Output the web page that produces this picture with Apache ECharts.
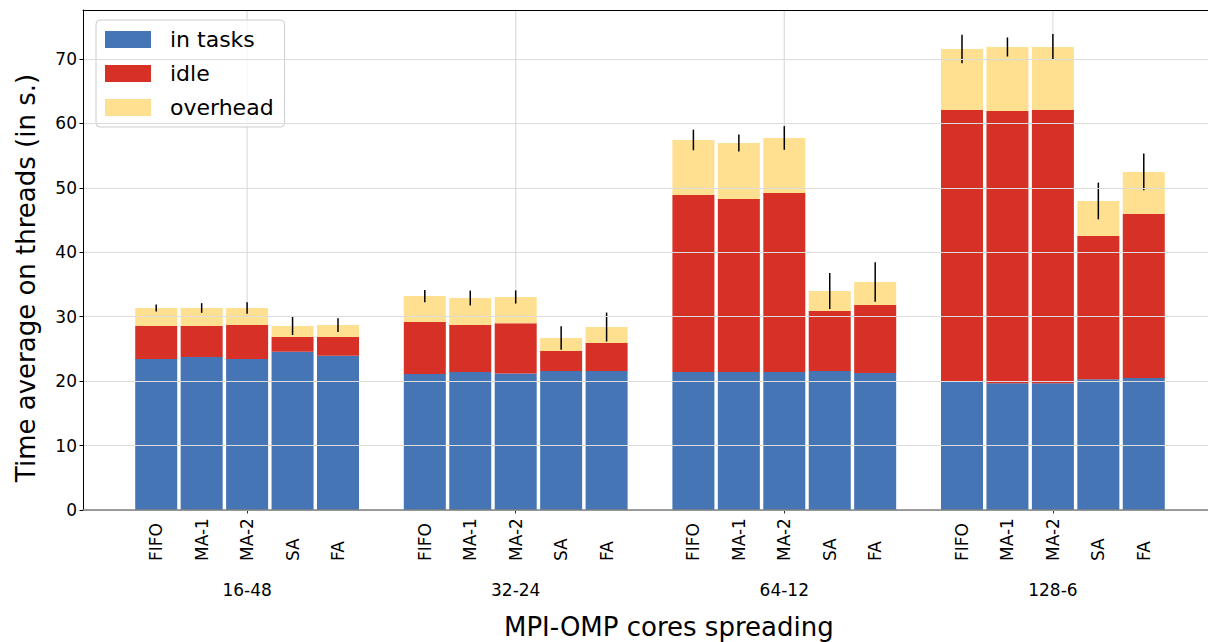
<!DOCTYPE html>
<html>
<head>
<meta charset="utf-8">
<script src="https://cdn.jsdelivr.net/npm/echarts@6/dist/echarts.min.js"></script>
<style>
  html, body { margin: 0; padding: 0; background: #fff; }
  #chart { width: 1208px; height: 642px; }
</style>
</head>
<body>
<div id="chart"></div>
<script>
const groups = ['16-48', '32-24', '64-12', '128-6'];
const schedulers = ['FIFO', 'MA-1', 'MA-2', 'SA', 'FA'];
// values in seconds, in order group by group, scheduler by scheduler
const inTasks = [23.44, 23.75, 23.44, 24.57, 23.95,
                 21.10, 21.42, 21.20, 21.57, 21.57,
                 21.42, 21.42, 21.42, 21.57, 21.26,
                 19.87, 19.66, 19.66, 20.28, 20.49];
const idle = [5.12, 4.81, 5.26, 2.28, 2.90,
              8.08, 7.28, 7.80, 3.11, 4.33,
              27.48, 26.85, 27.78, 9.32, 10.56,
              42.21, 42.27, 42.42, 22.25, 25.45];
const overhead = [2.79, 2.79, 2.65, 1.71, 1.85,
                  4.02, 4.20, 4.06, 2.02, 2.50,
                  8.53, 8.69, 8.54, 3.10, 3.57,
                  9.47, 9.93, 9.78, 5.43, 6.52];
const errHalf = [0.55, 0.75, 0.90, 1.40, 1.07,
                 0.95, 1.15, 1.02, 1.82, 2.25,
                 1.60, 1.32, 1.84, 2.80, 3.08,
                 2.20, 1.48, 2.00, 2.85, 2.85];
const yTicks = [0, 10, 20, 30, 40, 50, 60, 70];

const STEP = 0.1692, BAR_W = 0.1564;
const X_MIN = -0.611, X_MAX = 3.5775, Y_MAX = 77.6;
const FONT = 'DejaVu Sans';
const colors = { tasks: '#4575b4', idle: '#d73027', overhead: '#fee090' };

const positions = [];
const posNames = [];
groups.forEach((g, gi) => schedulers.forEach((s, si) => {
  positions.push(gi + (si - 2) * STEP);
  posNames.push(s);
}));
const groupPos = groups.map((g, gi) => gi);

function stackData(k) {
  return positions.map((x, j) => {
    const parts = [inTasks[j], idle[j], overhead[j]];
    let lo = 0;
    for (let t = 0; t < k; t++) lo += parts[t];
    return [x, lo, lo + parts[k]];
  });
}
function barRender(params, api) {
  const x = api.value(0), lo = api.value(1), hi = api.value(2);
  const p0 = api.coord([x - BAR_W / 2, hi]);
  const p1 = api.coord([x + BAR_W / 2, lo]);
  return { type: 'rect', shape: { x: p0[0], y: p0[1], width: p1[0] - p0[0], height: p1[1] - p0[1] },
           style: { fill: api.visual('color') } };
}
function nameOf(list, names, v) {
  for (let j = 0; j < list.length; j++) if (Math.abs(list[j] - v) < 1e-6) return names[j];
  return '';
}
const totals = positions.map((x, j) => [x, inTasks[j] + idle[j] + overhead[j], errHalf[j]]);

const chart = echarts.init(document.getElementById('chart'), null, { renderer: 'svg' });
chart.setOption({
  animation: false,
  textStyle: { fontFamily: FONT },
  title: {
    text: 'MPI-OMP cores spreading', left: 504, top: 614, padding: 0,
    textStyle: { fontFamily: FONT, fontSize: 26, fontWeight: 'normal', color: '#000' }
  },
  legend: {
    orient: 'vertical', left: 96, top: 20, padding: [8.5, 11, 8.5, 9],
    itemWidth: 46, itemHeight: 17, itemGap: 12, icon: 'rect',
    borderColor: '#cccccc', borderWidth: 1, borderRadius: 4,
    backgroundColor: 'rgba(255,255,255,0.8)',
    data: ['in tasks', 'idle', 'overhead'],
    textStyle: { fontFamily: FONT, fontSize: 22, color: '#000', padding: [0, 0, 0, 14] }
  },
  grid: [
    { left: 83, right: 0, top: 10, bottom: 132, show: false },
    { left: 83, right: 0, top: 10, bottom: 132, show: false }
  ],
  xAxis: [
    { type: 'value', gridIndex: 0, position: 'bottom', min: X_MIN, max: X_MAX, z: 5,
      axisLine: { show: true, onZero: false, lineStyle: { color: '#808080', width: 1.5 } },
      axisTick: { show: false }, splitLine: { show: false },
      axisLabel: { customValues: positions, rotate: 90, align: 'left', verticalAlign: 'middle', margin: 51,
                   fontSize: 17, color: '#000', fontFamily: FONT,
                   formatter: v => nameOf(positions, posNames, v) } },
    { type: 'value', gridIndex: 1, position: 'bottom', min: X_MIN, max: X_MAX,
      axisLine: { show: false, onZero: false }, splitLine: { show: false },
      axisTick: { show: true, customValues: groupPos, length: 3.5, lineStyle: { color: '#333', width: 1 } },
      axisLabel: { customValues: groupPos, margin: 80, verticalAlign: 'middle', fontSize: 17, color: '#000', fontFamily: FONT,
                   formatter: v => nameOf(groupPos, groups, v) } },
    { type: 'value', gridIndex: 0, position: 'top', min: X_MIN, max: X_MAX, z: 5,
      axisLine: { show: true, onZero: false, lineStyle: { color: '#000', width: 1 } },
      axisTick: { show: false }, axisLabel: { show: false }, splitLine: { show: false } }
  ],
  yAxis: [
    { type: 'value', gridIndex: 0, position: 'left', min: 0, max: Y_MAX, interval: 10, z: 5,
      name: 'Time average on threads (in s.)', nameLocation: 'middle', nameGap: 44,
      nameTextStyle: { fontFamily: FONT, fontSize: 26, color: '#000', padding: [0, 36, 0, 0] },
      axisLine: { show: true, onZero: false, lineStyle: { color: '#000', width: 1 } },
      axisTick: { show: true, customValues: yTicks, length: 3.5, lineStyle: { color: '#000' } },
      axisLabel: { customValues: yTicks, margin: 6, fontSize: 17, color: '#000', fontFamily: FONT },
      splitLine: { show: true, lineStyle: { color: '#dcdcdc', width: 1.2 } } },
    { type: 'value', gridIndex: 1, min: 0, max: Y_MAX, show: false }
  ],
  series: [
    { type: 'custom', name: 'grid-x', xAxisIndex: 0, yAxisIndex: 0, z: 1, silent: true,
      data: groupPos.map(v => [v]),
      renderItem: (params, api) => {
        const a = api.coord([api.value(0), 0]), b = api.coord([api.value(0), Y_MAX]);
        return { type: 'line', shape: { x1: a[0], y1: a[1], x2: b[0], y2: b[1] }, style: { stroke: '#dcdcdc', lineWidth: 1.2 } };
      } },
    { type: 'custom', name: 'in tasks', xAxisIndex: 0, yAxisIndex: 0, z: 2, itemStyle: { color: colors.tasks },
      encode: { x: 0, y: [1, 2] }, data: stackData(0), renderItem: barRender },
    { type: 'custom', name: 'idle', xAxisIndex: 0, yAxisIndex: 0, z: 2, itemStyle: { color: colors.idle },
      encode: { x: 0, y: [1, 2] }, data: stackData(1), renderItem: barRender },
    { type: 'custom', name: 'overhead', xAxisIndex: 0, yAxisIndex: 0, z: 2, itemStyle: { color: colors.overhead },
      encode: { x: 0, y: [1, 2] }, data: stackData(2), renderItem: barRender },
    { type: 'custom', name: 'error', xAxisIndex: 0, yAxisIndex: 0, z: 3, silent: true,
      data: totals,
      renderItem: (params, api) => {
        const x = api.value(0), t = api.value(1), e = api.value(2);
        const a = api.coord([x, t - e]), b = api.coord([x, t + e]);
        return { type: 'line', shape: { x1: a[0], y1: a[1], x2: b[0], y2: b[1] }, style: { stroke: '#000', lineWidth: 1.5 } };
      } }
  ]
});
</script>
</body>
</html>
